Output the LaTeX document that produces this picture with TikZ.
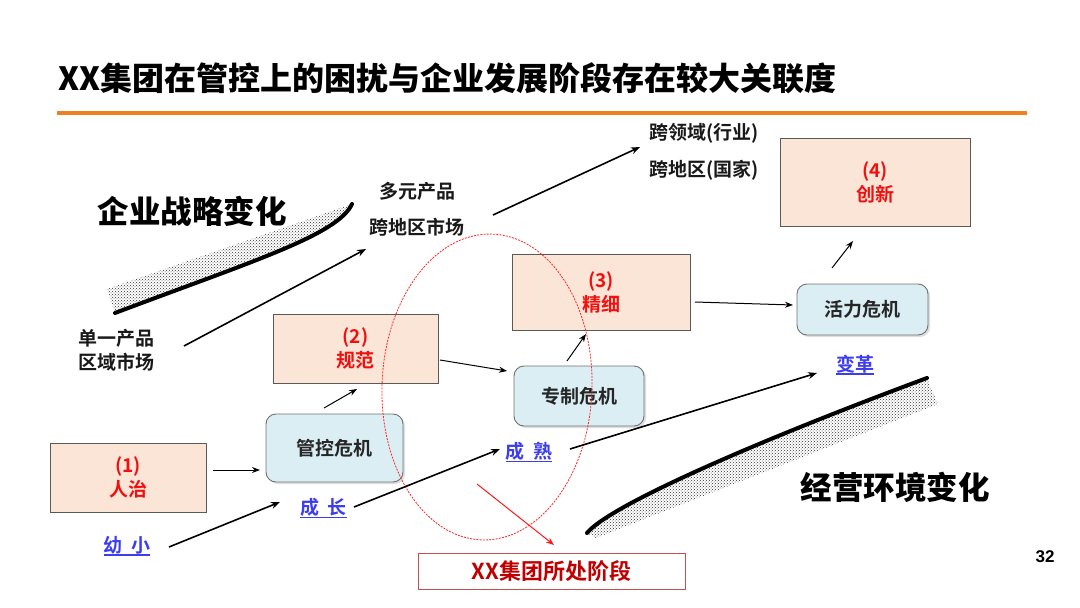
\documentclass[tikz,border=0pt]{standalone}
\usepackage{fontspec}
\setmainfont{Noto Sans CJK SC}[BoldFont={Noto Sans CJK SC Bold}]
\newfontfamily\heavyfont{Noto Sans CJK SC Black}
\newfontfamily\numfont{Liberation Sans}
\usetikzlibrary{arrows.meta,patterns,shadows,calc,shapes.geometric}
\definecolor{peach}{HTML}{FBE5D6}
\definecolor{iceblue}{HTML}{DAEEF3}
\definecolor{boxline}{HTML}{595959}
\definecolor{lblue}{HTML}{3D3DF0}
\definecolor{tred}{HTML}{F01010}
\definecolor{dred}{HTML}{C00000}
\definecolor{frame}{HTML}{C0504D}
\definecolor{orng}{HTML}{EE7F22}
\tikzset{
  stagebox/.style={draw=boxline, line width=0.9pt, fill=peach, text=tred,
    font=\fontsize{19}{24}\selectfont\bfseries, align=center, inner sep=0pt},
  crisis/.style={draw=boxline!85, line width=0.9pt, fill=iceblue, rounded corners=10pt,
    drop shadow={shadow xshift=2pt, shadow yshift=-2pt, fill=black!25},
    font=\fontsize{19}{24}\selectfont\bfseries, text=black!85, inner sep=0pt},
  phase/.style={text=lblue, font=\fontsize{19}{24}\selectfont\bfseries, inner sep=0pt},
  plain/.style={font=\fontsize{19}{24}\selectfont\bfseries, align=center, inner sep=0pt, text=black!90},
  big/.style={font=\heavyfont\fontsize{31.5}{36}\selectfont, inner sep=0pt},
  arr/.style={-{Stealth[length=8pt,width=6pt]}, line width=1pt},
  arrb/.style={-{Stealth[length=9pt,width=7pt]}, line width=1.6pt},
  uline/.style={lblue, line width=1.6pt},
  band/.style={pattern=crosshatch dots, pattern color=black!80},
  bandline/.style={line width=4pt, line cap=round}
}
\begin{document}
\begin{tikzpicture}[x=1pt,y=-1pt]
\useasboundingbox[fill=white] (0,0) rectangle (1080,608);

% title and rule
\node[anchor=west, font=\heavyfont\fontsize{32}{36}\selectfont, inner sep=0pt] (title) at (58,78) {XX集团在管控上的困扰与企业发展阶段存在较大关联度};
\coordinate (ruleL) at (57,113);
\coordinate (ruleR) at (1027,113);
\draw[orng, line width=4pt] (ruleL) -- (ruleR);

% bands
\fill[band] (115,313) .. controls (250,262) and (338,235) .. (352,204) -- (107,289) -- cycle;
\draw[bandline] (115,313) .. controls (250,262) and (338,235) .. (352,204);
\fill[band] (587,533) .. controls (610,505) and (760,440) .. (927,378) -- (938,404) -- (596,538) -- cycle;
\draw[bandline] (587,533) .. controls (610,505) and (760,440) .. (927,378);

\node[big] (strat) at (192,211) {企业战略变化};
\node[big] (env) at (895,487) {经营环境变化};

% strategy texts
\node[plain] (single) at (116,350) {单一产品\\[0pt]区域市场};
\node[plain] (multi) at (417,191) {多元产品};
\node[plain] (multi2) at (417,227) {跨地区市场};
\node[plain] (cross1) at (704,133) {跨领域(行业)};
\node[plain] (cross2) at (704,170) {跨地区(国家)};

% stage boxes
\node[stagebox, minimum width=156pt, minimum height=69pt] (s1) at (128,477.5) {(1)\\人治};
\node[stagebox, minimum width=165pt, minimum height=69pt] (s2) at (355.5,348.5) {(2)\\规范};
\node[stagebox, minimum width=178pt, minimum height=76pt] (s3) at (601,292) {(3)\\精细};
\node[stagebox, minimum width=190pt, minimum height=88pt] (s4) at (875,182) {(4)\\创新};

% crisis boxes
\node[crisis, minimum width=137pt, minimum height=68pt] (c1) at (334.5,448) {管控危机};
\node[crisis, minimum width=130pt, minimum height=60pt] (c2) at (579,396) {专制危机};
\node[crisis, minimum width=131pt, minimum height=51pt] (c3) at (862.5,309.5) {活力危机};

% phase labels
\node[phase] (p1) at (127,545) {幼 \hspace{4pt}小};
\node[phase] (p2) at (323.5,507) {成 \hspace{4pt}长};
\node[phase] (p3) at (529,451) {成 \hspace{4pt}熟};
\node[phase] (p4) at (855,364) {变革};
\foreach \p in {p1,p2,p3,p4}
  \draw[uline] ([yshift=-1pt]\p.south west) -- ([yshift=-1pt]\p.south east);

% current stage box and ellipse
\node[draw=frame, line width=1pt, fill=white, minimum width=267pt, minimum height=36pt,
      text=dred, font=\fontsize{22}{26}\selectfont\bfseries, inner sep=0pt] (cur) at (551.5,571) {XX集团所处阶段};
\node[draw=red!85, dash pattern=on 2pt off 1.2pt, line width=0.8pt, ellipse, minimum width=210pt,
      minimum height=306pt, rotate=-2, inner sep=0pt] (ell) at (487,387) {};

% page number
\node[font=\numfont\fontsize{17}{20}\selectfont\bfseries, inner sep=0pt] (pg) at (1045,557) {32};

% arrow end points
\coordinate (a1s) at (213,470); \coordinate (a1e) at (260,470);
\coordinate (a2s) at (169,547); \coordinate (a2e) at (280,502);
\coordinate (a3s) at (354,507); \coordinate (a3e) at (500,449);
\coordinate (a4s) at (570,449); \coordinate (a4e) at (817,373);
\coordinate (a5s) at (324,408); \coordinate (a5e) at (357,389);
\coordinate (a6s) at (440,360); \coordinate (a6e) at (507,371);
\coordinate (a7s) at (567,361); \coordinate (a7e) at (586,334);
\coordinate (a8s) at (695,302); \coordinate (a8e) at (793,305);
\coordinate (a9s) at (832,268); \coordinate (a9e) at (853,241);
\coordinate (a10s) at (477,484); \coordinate (a10e) at (554,545);
\coordinate (a11s) at (184,346); \coordinate (a11e) at (366,249);
\coordinate (a12s) at (493,215); \coordinate (a12e) at (640,147);

\draw[arr] (a1s) -- (a1e);
\draw[arrb] (a2s) -- (a2e);
\draw[arrb] (a3s) -- (a3e);
\draw[arrb] (a4s) -- (a4e);
\draw[arr] (a5s) -- (a5e);
\draw[arr] (a6s) -- (a6e);
\draw[arr] (a7s) -- (a7e);
\draw[arr] (a8s) -- (a8e);
\draw[arr] (a9s) -- (a9e);
\draw[arr, red!90] (a10s) -- (a10e);
\draw[arrb] (a11s) -- (a11e);
\draw[arrb] (a12s) -- (a12e);
\end{tikzpicture}
\end{document}
